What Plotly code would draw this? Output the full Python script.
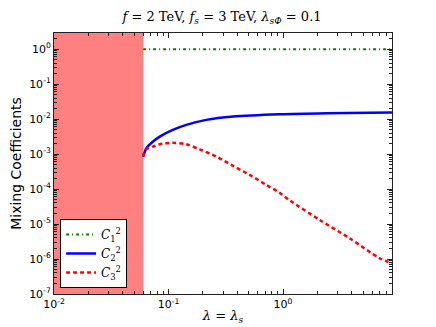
import plotly.graph_objects as go

# excluded region and axis limits
lam_excluded = [0.01, 0.06]

# C1^2 (flat near 1)
lam_c1 = [0.06, 0.5, 1.0, 8.95]
c1 = [0.99, 0.99, 0.99, 0.99]

# C2^2
lam_c2 = [0.06, 0.0641, 0.0733, 0.0838, 0.109, 0.143, 0.214, 0.366, 0.935, 2.39, 8.95]
c2 = [8.5e-4, 1.47e-3, 2.28e-3, 3.16e-3, 4.92e-3, 6.84e-3, 9.5e-3, 1.18e-2, 1.38e-2, 1.48e-2, 1.54e-2]

# C3^2
lam_c3 = [0.06, 0.0641, 0.0733, 0.0838, 0.109, 0.143, 0.187, 0.262, 0.366, 0.512, 0.716,
          0.935, 1.14, 2.09, 3.83, 7.0, 8.95]
c3 = [8.5e-4, 1.37e-3, 1.64e-3, 1.92e-3, 2.1e-3, 1.92e-3, 1.37e-3, 8.5e-4, 4.6e-4, 2.54e-4, 1.31e-4,
      7.8e-5, 4.8e-5, 1.31e-5, 3.9e-6, 1.05e-6, 7.6e-7]

x_ticks = [0.01, 0.1, 1]
x_ticktext = ["10<sup>-2</sup>", "10<sup>-1</sup>", "10<sup>0</sup>"]
y_ticks = [1e-7, 1e-6, 1e-5, 1e-4, 1e-3, 1e-2, 1e-1, 1]
y_ticktext = ["10<sup>-7</sup>", "10<sup>-6</sup>", "10<sup>-5</sup>", "10<sup>-4</sup>",
              "10<sup>-3</sup>", "10<sup>-2</sup>", "10<sup>-1</sup>", "10<sup>0</sup>"]

fig = go.Figure()
fig.add_vrect(x0=lam_excluded[0], x1=lam_excluded[1], fillcolor="#ff8080", opacity=1,
              line_width=0, layer="below")

fig.add_trace(go.Scatter(x=lam_c1, y=c1, mode="lines", name="<i>C</i><sub>1</sub><sup>2</sup>",
                         line=dict(color="#008000", width=2, dash="3px,3px,1px,3px")))
fig.add_trace(go.Scatter(x=lam_c2, y=c2, mode="lines", name="<i>C</i><sub>2</sub><sup>2</sup>",
                         line=dict(color="#0000ff", width=2.5, shape="spline", smoothing=0.8)))
fig.add_trace(go.Scatter(x=lam_c3, y=c3, mode="lines", name="<i>C</i><sub>3</sub><sup>2</sup>",
                         line=dict(color="#ff0000", width=2.5, dash="4px,3px", shape="spline",
                                   smoothing=0.8)))

axis_common = dict(type="log", showgrid=False, zeroline=False, showline=True, automargin=False,
                   linecolor="#222", linewidth=1, mirror="allticks", ticks="inside",
                   ticklen=5, tickcolor="#222",
                   minor=dict(ticks="inside", ticklen=3, tickcolor="#222", showgrid=False,
                              dtick="D1"),
                   tickfont=dict(family="DejaVu Sans", size=11, color="black"))

fig.update_xaxes(range=[-2, 0.952], tickvals=x_ticks, ticktext=x_ticktext,
                 title=dict(text="<i>λ</i> = <i>λ<sub>s</sub></i>", standoff=0,
                            font=dict(family="DejaVu Serif", size=13, color="black")),
                 **axis_common)
fig.update_yaxes(range=[-7, 0.462], tickvals=y_ticks, ticktext=y_ticktext,
                 title=dict(text="Mixing Coefficients", standoff=6,
                            font=dict(family="DejaVu Sans", size=14, color="black")),
                 **axis_common)

# page body adds an 8px offset, so the figure is sized 8px smaller
fig.update_layout(
    width=428, height=319,
    margin=dict(l=46, r=44, t=25, b=33),
    plot_bgcolor="white", paper_bgcolor="white",
    title=dict(text="<i>f</i> = 2 TeV, <i>f<sub>s</sub></i> = 3 TeV, <i>λ<sub>sΦ</sub></i> = 0.1",
               x=0.5, xanchor="center", y=0.972, yanchor="middle",
               font=dict(family="DejaVu Serif", size=13, color="black")),
    showlegend=True,
    legend=dict(x=0.018, y=0.023, xanchor="left", yanchor="bottom", bgcolor="white",
                bordercolor="black", borderwidth=1, itemwidth=30,
                font=dict(family="DejaVu Serif", size=12, color="black"), tracegroupgap=0),
)

fig.write_html("out.html")
